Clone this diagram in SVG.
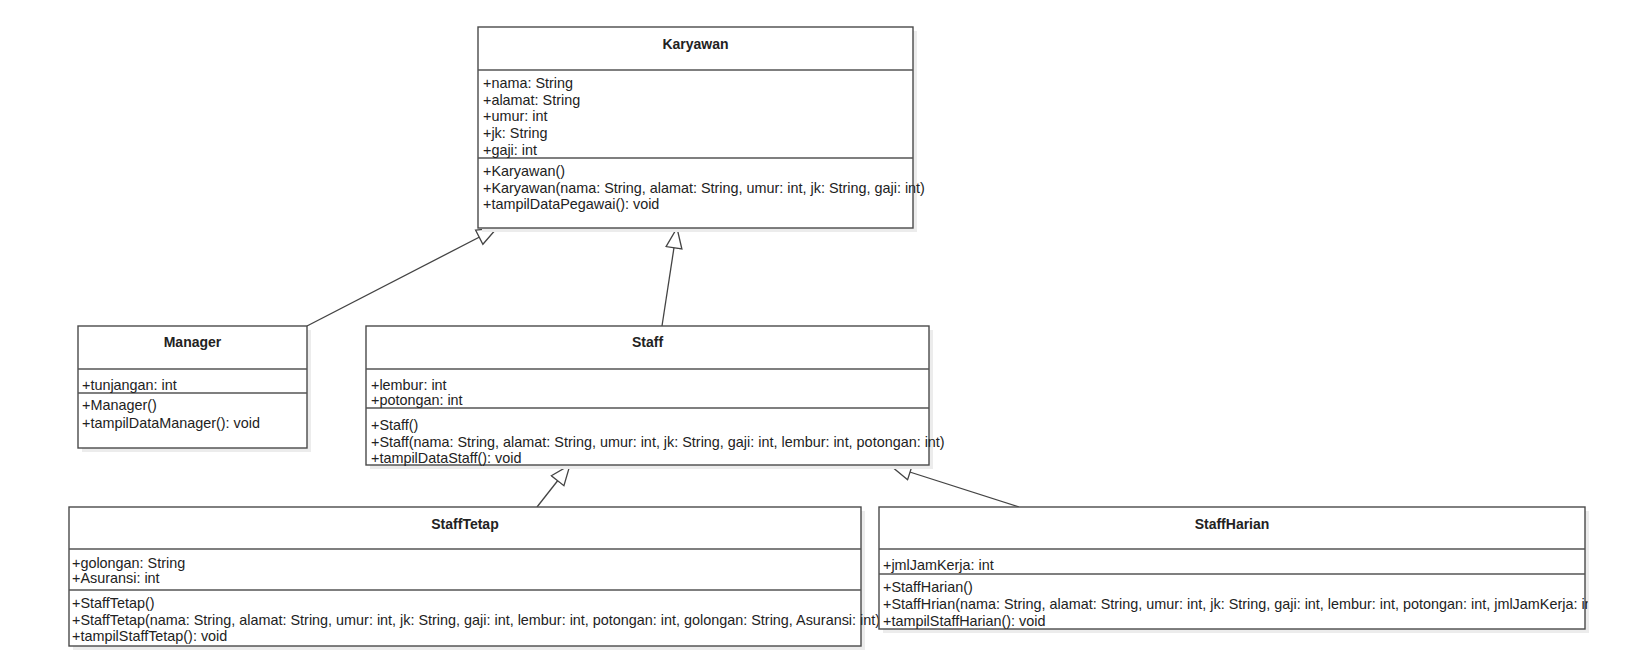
<svg xmlns="http://www.w3.org/2000/svg" width="1646" height="658" viewBox="0 0 1646 658">
<style>
.box{fill:#fff;stroke:#4a4a4a;stroke-width:1.4}
.shadow{fill:#ececec}
.div{stroke:#555;stroke-width:1.3}
.t{font-family:"Liberation Sans",Arial,sans-serif;font-size:14.4px;fill:#222}
.h{font-family:"Liberation Sans",Arial,sans-serif;font-size:14px;font-weight:bold;fill:#222;text-anchor:middle}
.conn{stroke:#444;stroke-width:1.3;fill:none}
</style>
<defs>
<marker id="gen" viewBox="0 0 22 18" refX="21" refY="9" markerWidth="22" markerHeight="18" markerUnits="userSpaceOnUse" orient="auto">
<path d="M1,1 L21,9 L1,17 Z" fill="#fff" stroke="#444" stroke-width="1.3"/>
</marker>
<clipPath id="clipH"><rect x="870" y="500" width="718" height="140"/></clipPath>
</defs>
<rect width="1646" height="658" fill="#fff"/>

<g id="connectors">
<line class="conn" x1="307" y1="326" x2="497" y2="228" marker-end="url(#gen)"/>
<line class="conn" x1="662" y1="326" x2="677" y2="228" marker-end="url(#gen)"/>
<line class="conn" x1="537" y1="507" x2="570" y2="465" marker-end="url(#gen)"/>
<line class="conn" x1="1019" y1="507" x2="891" y2="466" marker-end="url(#gen)"/>
</g>

<g id="Karyawan">
<rect class="shadow" x="482" y="31" width="435" height="201"/>
<rect class="box" x="478" y="27" width="435" height="201"/>
<line class="div" x1="478" y1="70" x2="913" y2="70"/>
<line class="div" x1="478" y1="158" x2="913" y2="158"/>
<text class="h" x="695.5" y="49">Karyawan</text>
<text class="t" x="483" y="88">+nama: String</text>
<text class="t" x="483" y="104.7">+alamat: String</text>
<text class="t" x="483" y="121.4">+umur: int</text>
<text class="t" x="483" y="138.1">+jk: String</text>
<text class="t" x="483" y="154.8">+gaji: int</text>
<text class="t" x="483" y="176">+Karyawan()</text>
<text class="t" x="483" y="192.7">+Karyawan(nama: String, alamat: String, umur: int, jk: String, gaji: int)</text>
<text class="t" x="483" y="209.4">+tampilDataPegawai(): void</text>
</g>

<g id="Manager">
<rect class="shadow" x="82" y="330" width="229" height="122"/>
<rect class="box" x="78" y="326" width="229" height="122"/>
<line class="div" x1="78" y1="369" x2="307" y2="369"/>
<line class="div" x1="78" y1="393" x2="307" y2="393"/>
<text class="h" x="192.5" y="347">Manager</text>
<text class="t" x="82" y="390">+tunjangan: int</text>
<text class="t" x="82" y="410">+Manager()</text>
<text class="t" x="82" y="427.5">+tampilDataManager(): void</text>
</g>

<g id="Staff">
<rect class="shadow" x="370" y="330" width="563" height="139"/>
<rect class="box" x="366" y="326" width="563" height="139"/>
<line class="div" x1="366" y1="369" x2="929" y2="369"/>
<line class="div" x1="366" y1="408" x2="929" y2="408"/>
<text class="h" x="647.5" y="347">Staff</text>
<text class="t" x="371" y="389.5">+lembur: int</text>
<text class="t" x="371" y="405">+potongan: int</text>
<text class="t" x="371" y="429.5">+Staff()</text>
<text class="t" x="371" y="446.5">+Staff(nama: String, alamat: String, umur: int, jk: String, gaji: int, lembur: int, potongan: int)</text>
<text class="t" x="371" y="462.5">+tampilDataStaff(): void</text>
</g>

<g id="StaffTetap">
<rect class="shadow" x="73" y="511" width="792" height="139"/>
<rect class="box" x="69" y="507" width="792" height="139"/>
<line class="div" x1="69" y1="549" x2="861" y2="549"/>
<line class="div" x1="69" y1="590" x2="861" y2="590"/>
<text class="h" x="465" y="529">StaffTetap</text>
<text class="t" x="72" y="568">+golongan: String</text>
<text class="t" x="72" y="583">+Asuransi: int</text>
<text class="t" x="72" y="608">+StaffTetap()</text>
<text class="t" x="72" y="625">+StaffTetap(nama: String, alamat: String, umur: int, jk: String, gaji: int, lembur: int, potongan: int, golongan: String, Asuransi: int)</text>
<text class="t" x="72" y="641">+tampilStaffTetap(): void</text>
</g>

<g id="StaffHarian">
<rect class="shadow" x="883" y="511" width="706" height="122"/>
<rect class="box" x="879" y="507" width="706" height="122"/>
<line class="div" x1="879" y1="549" x2="1585" y2="549"/>
<line class="div" x1="879" y1="574" x2="1585" y2="574"/>
<text class="h" x="1232" y="529">StaffHarian</text>
<text class="t" x="883" y="570">+jmlJamKerja: int</text>
<text class="t" x="883" y="592">+StaffHarian()</text>
<text class="t" x="883" y="609" clip-path="url(#clipH)">+StaffHrian(nama: String, alamat: String, umur: int, jk: String, gaji: int, lembur: int, potongan: int, jmlJamKerja: int)</text>
<text class="t" x="883" y="626">+tampilStaffHarian(): void</text>
</g>
</svg>
